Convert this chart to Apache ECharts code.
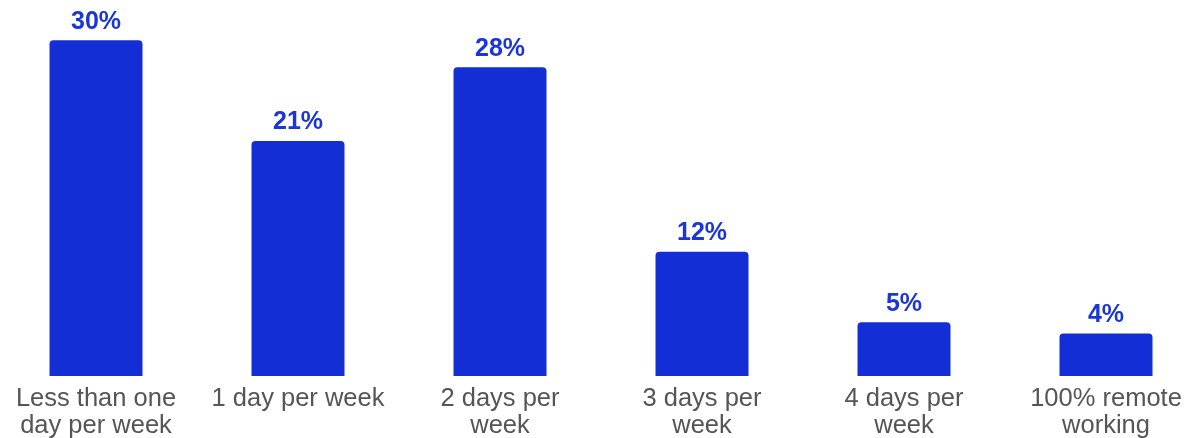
<!DOCTYPE html>
<html>
<head>
<meta charset="utf-8">
<script src="https://cdn.jsdelivr.net/npm/echarts@6/dist/echarts.min.js"></script>
<style>
html,body{margin:0;padding:0;background:#fff;}
#chart{width:1185px;height:438px;}
</style>
</head>
<body>
<div id="chart"></div>
<script>
const categories = [
  "Less than one\nday per week",
  "1 day per week",
  "2 days per\nweek",
  "3 days per\nweek",
  "4 days per\nweek",
  "100% remote\nworking"
];
const values = [30, 21, 27.6, 11.1, 4.8, 3.8];
const valueLabels = ["30%", "21%", "28%", "12%", "5%", "4%"];

const chart = echarts.init(document.getElementById('chart'));
chart.setOption({
  animation: false,
  grid: { left: -5, width: 1212, top: 0, bottom: 62, containLabel: false, outerBoundsMode: 'none' },
  xAxis: {
    type: 'category',
    data: categories,
    axisLine: { show: false },
    axisTick: { show: false },
    axisLabel: {
      interval: 0,
      color: '#555555',
      fontFamily: 'Liberation Sans, Arial, sans-serif',
      fontSize: 25.5,
      lineHeight: 27,
      margin: 9
    }
  },
  yAxis: {
    type: 'value',
    min: 0,
    max: 33.6,
    show: false,
    splitLine: { show: false }
  },
  series: [{
    type: 'bar',
    data: values,
    barWidth: 93,
    itemStyle: { color: '#142ed6', borderRadius: [4, 4, 0, 0] },
    label: {
      show: true,
      position: 'top',
      distance: 6,
      color: '#1b36d8',
      fontFamily: 'Liberation Sans, Arial, sans-serif',
      fontWeight: 'bold',
      fontSize: 25,
      formatter: p => valueLabels[p.dataIndex]
    }
  }]
});
</script>
</body>
</html>
